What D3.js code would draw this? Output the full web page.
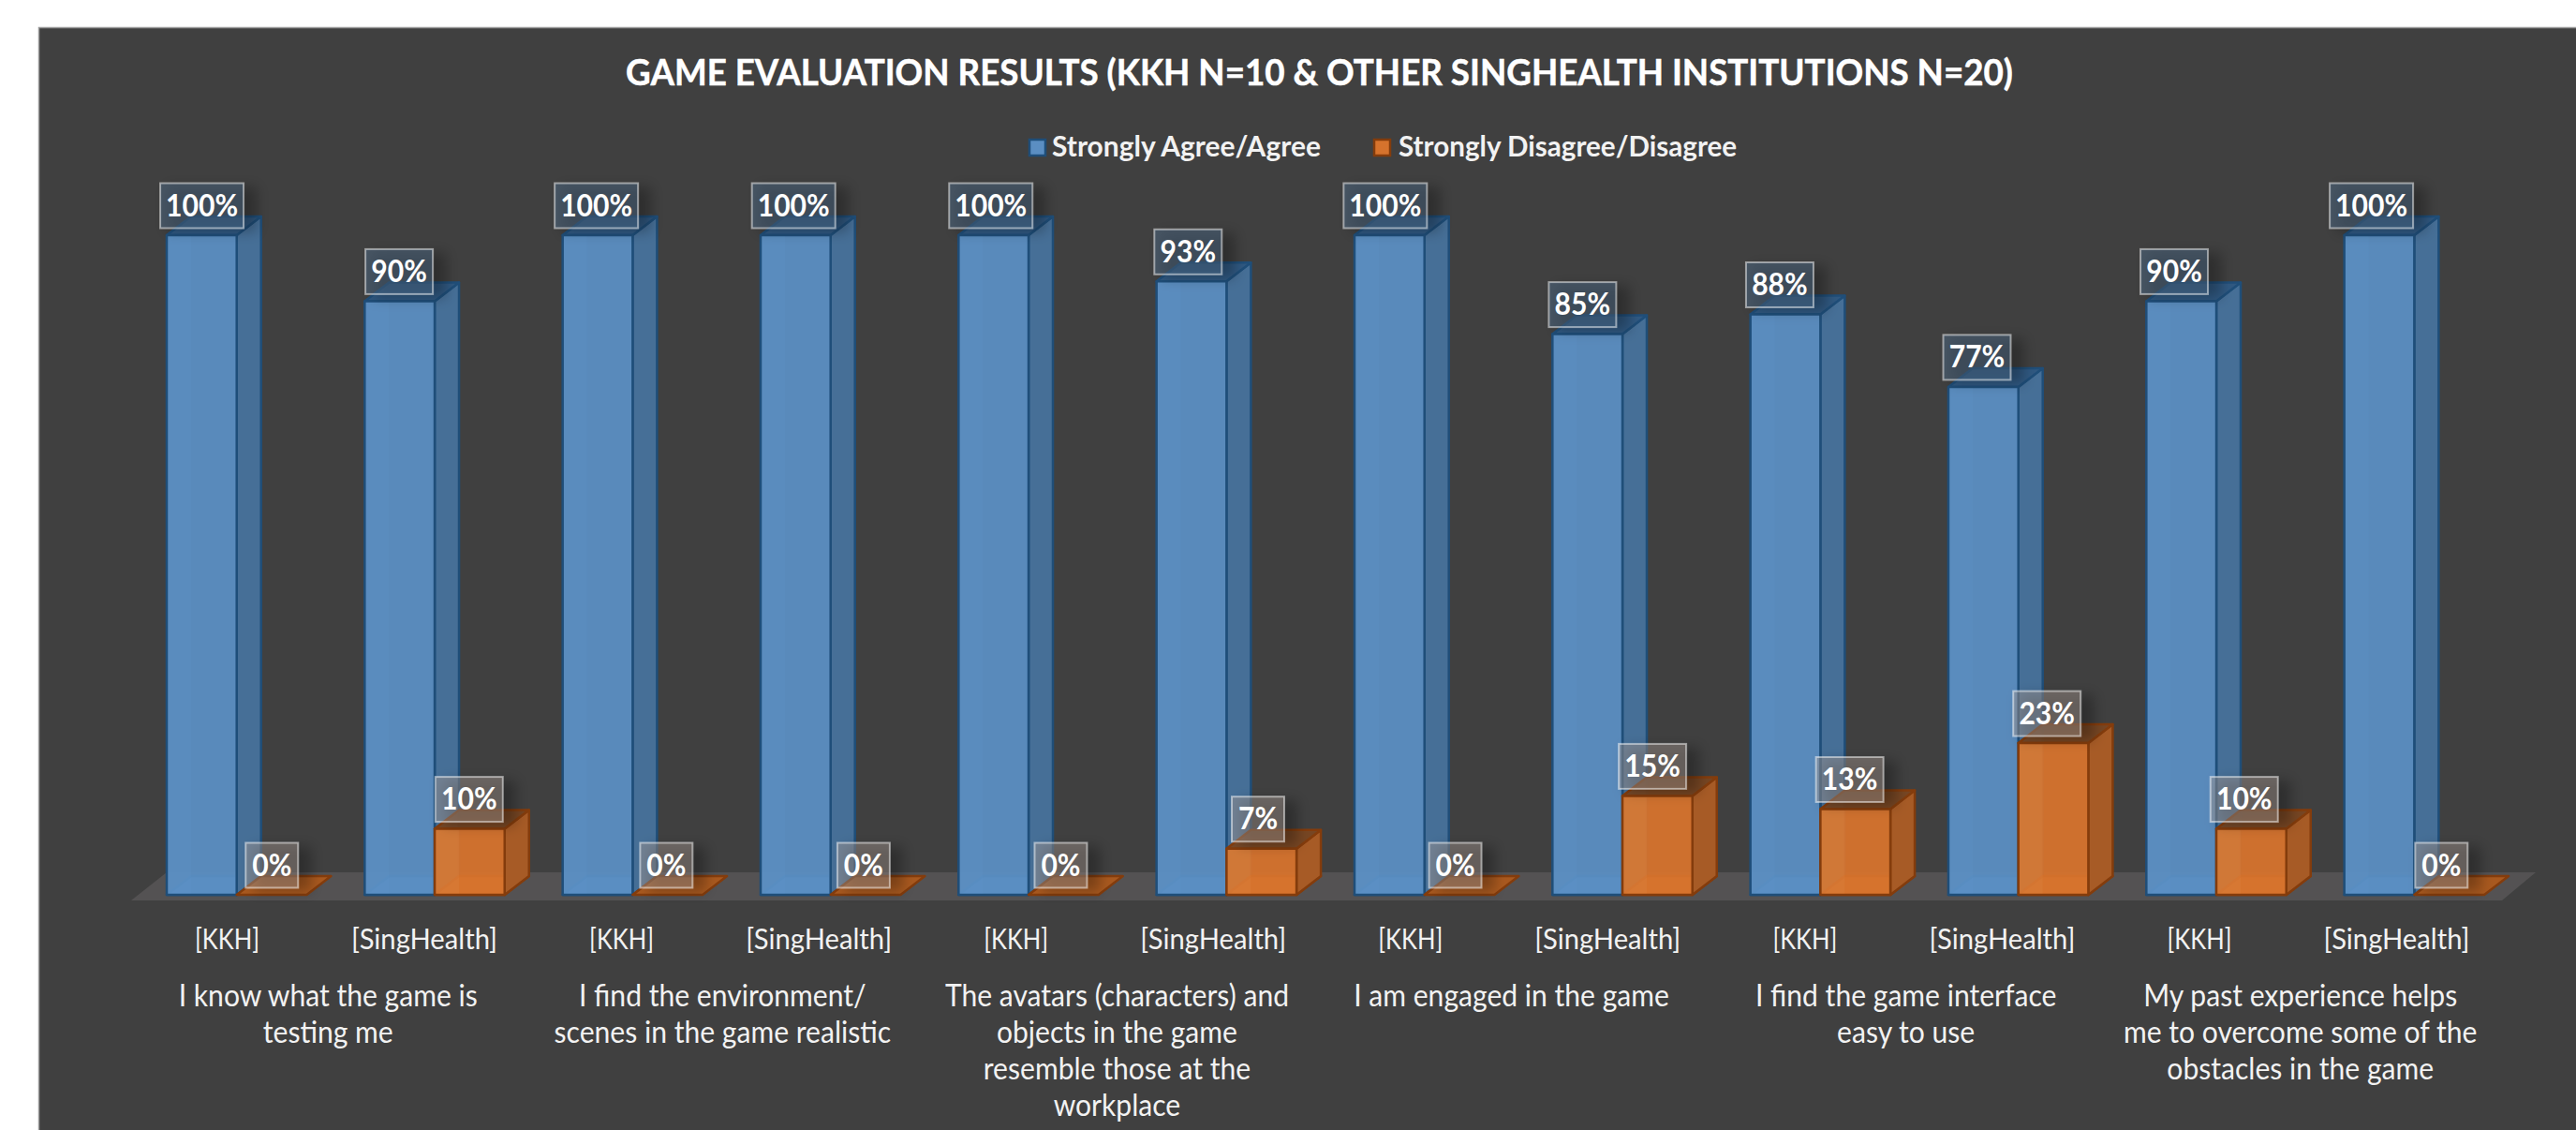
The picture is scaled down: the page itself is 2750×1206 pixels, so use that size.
<!DOCTYPE html>
<html>
<head>
<meta charset="utf-8">
<script src="https://cdn.jsdelivr.net/npm/d3@7"></script>
<style>
  html, body { margin: 0; padding: 0; background: #fff; }
  svg { display: block; }
  text { font-family: Lato, "Open Sans", sans-serif; }
</style>
</head>
<body>
<div id="chart"></div>
<script>
// Survey results per institution, in percent.
const institutions = ["[KKH]", "[SingHealth]", "[KKH]", "[SingHealth]", "[KKH]", "[SingHealth]",
                      "[KKH]", "[SingHealth]", "[KKH]", "[SingHealth]", "[KKH]", "[SingHealth]"];
const agree    = [100, 90, 100, 100, 100, 93, 100, 85, 88, 77, 90, 100];
const disagree = [0, 10, 0, 0, 0, 7, 0, 15, 13, 23, 10, 0];
const statements = [
  ["I know what the game is", "testing me"],
  ["I find the environment/", "scenes in the game realistic"],
  ["The avatars (characters) and", "objects in the game", "resemble those at the", "workplace"],
  ["I am engaged in the game"],
  ["I find the game interface", "easy to use"],
  ["My past experience helps", "me to overcome some of the", "obstacles in the game"]
];
const titleText = "GAME EVALUATION RESULTS (KKH N=10 & OTHER SINGHEALTH INSTITUTIONS N=20)";
const seriesNames = ["Strongly Agree/Agree", "Strongly Disagree/Disagree"];

const W = 2750, H = 1206;
const baseY = 955, topY = 251;      // plot span of the value axis
const depthX = 26, depthY = 20;     // oblique offset of the 3D columns
const barW = 74.7, barInset = 41;

// Columns sit on the floor plane; axis text and value labels follow a slightly
// tighter band because they are projected onto the front of the 3D scene.
const x = d3.scaleBand().domain(d3.range(institutions.length)).range([137, 2673]);
const xText = d3.scaleBand().domain(d3.range(institutions.length)).range([137.2, 2663.8]);
const y = d3.scaleLinear().domain([0, 100]).range([baseY, topY]);

const palette = [
  { front: "#5b8ec2", strip: "#6098cc", side: "#466f97", top: "#2f5b86", floor: "#4a86c0", stroke: "#1f4e79", box: "#4f6f8f" },
  { front: "#d6732d", strip: "#dc8a4c", side: "#a75b26", top: "#7a4722", floor: "#d97a30", stroke: "#843c0c", box: "#a79a92" }
];

const svg = d3.select("#chart").append("svg").attr("width", W).attr("height", H);

const defs = svg.append("defs");
const shadow = defs.append("filter").attr("id", "soft")
  .attr("x", "-30%").attr("y", "-30%").attr("width", "170%").attr("height", "170%");
shadow.append("feGaussianBlur").attr("stdDeviation", 7);

// Panel
svg.append("rect").attr("x", 41).attr("y", 29).attr("width", W - 41).attr("height", H - 29)
  .attr("fill", "#404040");
svg.append("path").attr("d", `M41.5,${H}V29.5H${W}`).attr("fill", "none")
  .attr("stroke", "#9a9a9a").attr("stroke-width", 1.5);

// Condense Lato towards the narrower proportions of the chart face.
function condensed(sel, k) {
  sel.each(function () {
    const len = this.getComputedTextLength();
    d3.select(this).attr("textLength", len * k).attr("lengthAdjust", "spacingAndGlyphs");
  });
  return sel;
}

// Title
svg.append("text").attr("x", 1408.5).attr("y", 91).attr("text-anchor", "middle")
  .attr("font-size", 38).attr("font-weight", 700).attr("fill", "#fff")
  .attr("stroke", "#fff").attr("stroke-width", 0.5).text(titleText)
  .call(condensed, 0.967);

// Legend
const legendPos = [{ sq: 1099, tx: 1123, k: 0.965 }, { sq: 1467, tx: 1493, k: 0.955 }];
seriesNames.forEach((name, i) => {
  svg.append("rect").attr("x", legendPos[i].sq).attr("y", 149).attr("width", 17).attr("height", 17)
    .attr("fill", palette[i].front).attr("stroke", palette[i].stroke).attr("stroke-width", 2.5);
  svg.append("text").attr("x", legendPos[i].tx).attr("y", 167)
    .attr("font-size", 31).attr("font-weight", 700).attr("fill", "#f2f2f2").text(name)
    .call(condensed, legendPos[i].k);
});

// Floor plane
const floorL = x(0), floorR = x.range()[1];
svg.append("path")
  .attr("d", `M${floorL + 3},961L${floorL + 41},931H${floorR + 34}L${floorR - 2},961Z`)
  .attr("fill", "#545253");

const poly = pts => "M" + pts.map(p => p.join(",")).join("L") + "Z";

// One oblique column, drawn back to front.
function column(g, x0, value, pal, flatFill) {
  const x1 = x0 + barW, yt = y(value), yb = y(0);
  const face = (pts, fill, op) => g.append("path").attr("d", poly(pts)).attr("fill", fill)
    .attr("fill-opacity", op).attr("stroke", pal.stroke).attr("stroke-width", 2.5).attr("stroke-linejoin", "round");
  const base = [[x0, yb], [x1, yb], [x1 + depthX, yb - depthY], [x0 + depthX, yb - depthY]];
  if (value === 0) {
    face(base, flatFill, 1);
    return;
  }
  face(base, pal.floor, 1);
  face([[x1, yb], [x1 + depthX, yb - depthY], [x1 + depthX, yt - depthY], [x1, yt]], pal.side, 1);
  face([[x0, yt], [x1, yt], [x1 + depthX, yt - depthY], [x0 + depthX, yt - depthY]], pal.top, 0.95);
  face([[x0, yt], [x1, yt], [x1, yb], [x0, yb]], pal.front, 0.95);
  g.append("rect").attr("x", x0 + 1.5).attr("y", yt + 1.5).attr("width", depthX - 1.5).attr("height", yb - yt - 3)
    .attr("fill", pal.strip).attr("fill-opacity", 0.2);
}

const blueCols = svg.append("g");
agree.forEach((v, i) => column(blueCols, x(i) + barInset, v, palette[0], "#2f5b86"));
const orangeCols = svg.append("g");
disagree.forEach((v, i) => column(orangeCols, x(i) + barInset + barW, v, palette[1], "#a9591f"));

// Value labels
const labelLayer = svg.append("g");
function valueLabel(v, cx, pal) {
  const s = `${v}%`;
  const w = s.length === 4 ? 89 : s.length === 3 ? 72 : 56, h = 48;
  const yBox = y(v) - 7.5 - h;
  labelLayer.append("rect").attr("x", cx - w / 2 + 8).attr("y", yBox + 4).attr("width", w + 6).attr("height", h)
    .attr("fill", "#000").attr("fill-opacity", 0.28).attr("filter", "url(#soft)");
  labelLayer.append("rect").attr("x", cx - w / 2).attr("y", yBox).attr("width", w).attr("height", h)
    .attr("fill", pal.box).attr("fill-opacity", 0.45)
    .attr("stroke", "#fff").attr("stroke-opacity", 0.5).attr("stroke-width", 2);
  labelLayer.append("text").attr("x", cx).attr("y", yBox + 35).attr("text-anchor", "middle")
    .attr("font-size", 32).attr("font-weight", 700).attr("fill", "#fff").text(s)
    .call(condensed, 0.94);
}
agree.forEach((v, i) => valueLabel(v, xText(i) + barInset + barW / 2, palette[0]));
disagree.forEach((v, i) => valueLabel(v, xText(i) + barInset + barW * 1.5, palette[1]));

// Two-level category axis
const tickY = 1013;
svg.append("g").selectAll("text").data(institutions).join("text")
  .attr("x", (d, i) => xText(i) + xText.bandwidth() / 2).attr("y", tickY).attr("text-anchor", "middle")
  .attr("font-size", 31).attr("fill", "#f2f2f2").text(d => d)
  .each(function (d) {
    // Institution names sit at fixed widths on the axis.
    d3.select(this).attr("textLength", d === "[KKH]" ? 69 : 156).attr("lengthAdjust", "spacingAndGlyphs");
  });

statements.forEach((lines, g) => {
  const cx = xText(g * 2) + xText.bandwidth() + 2.5;
  lines.forEach((line, j) => {
    svg.append("text").attr("x", cx).attr("y", 1074 + j * 39).attr("text-anchor", "middle")
      .attr("font-size", 32).attr("fill", "#f2f2f2").text(line)
      .call(condensed, 0.94);
  });
});
</script>
</body>
</html>
